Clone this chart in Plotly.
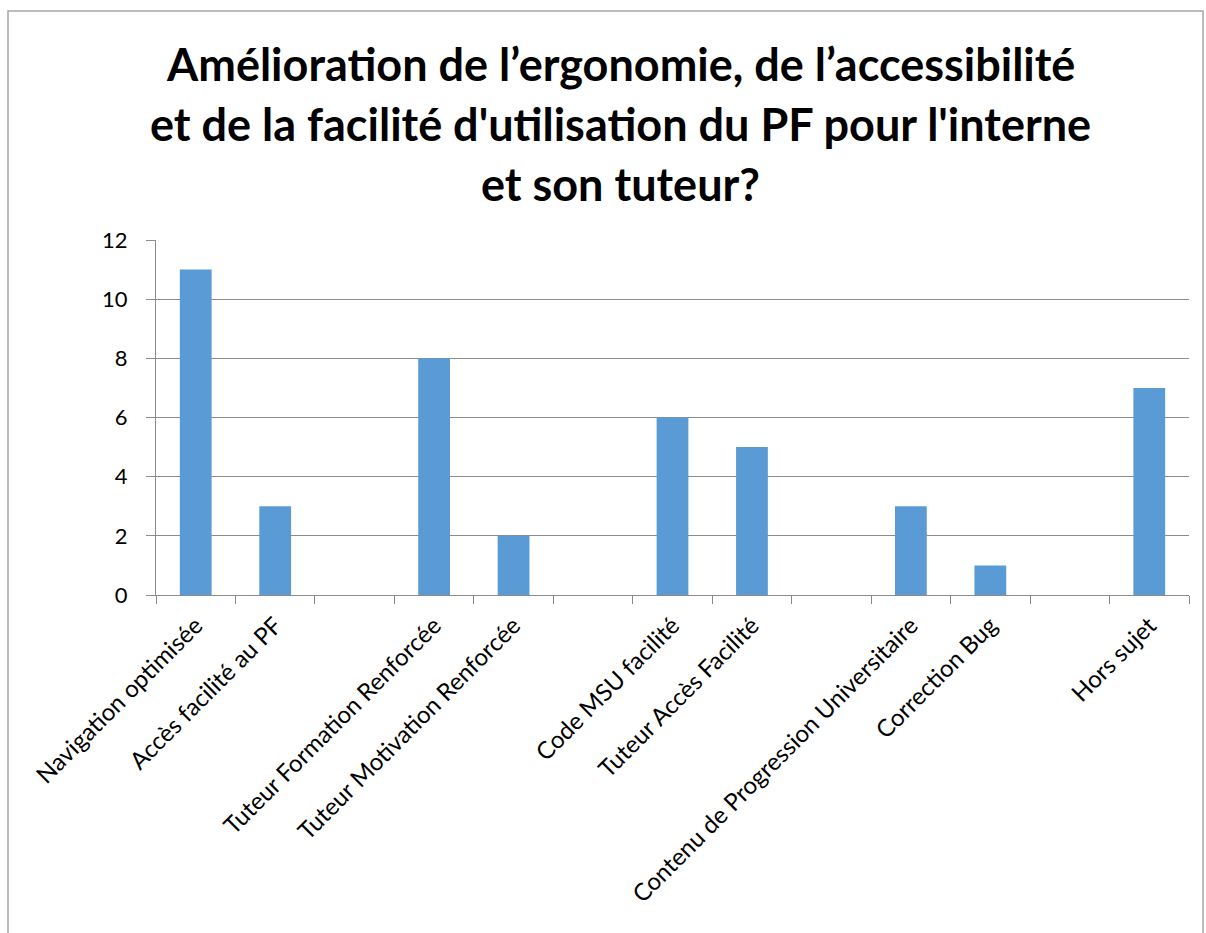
import plotly.graph_objects as go

categories = [
    "Navigation optimisée",
    "Accès facilité au PF",
    " ",
    "Tuteur Formation Renforcée",
    "Tuteur Motivation Renforcée",
    "  ",
    "Code MSU facilité",
    "Tuteur Accès Facilité",
    "   ",
    "Contenu de Progression Universitaire",
    "Correction Bug",
    "    ",
    "Hors sujet",
]
values = [11, 3, None, 8, 2, None, 6, 5, None, 3, 1, None, 7]
y_ticks = [0, 2, 4, 6, 8, 10, 12]
title_lines = [
    "Amélioration de l’ergonomie, de l’accessibilité",
    "et de la facilité d'utilisation du PF pour l'interne",
    "et son tuteur?",
]

W, H = 1206, 933
L, R, T, B = 156, 17, 240, 338
ph = H - T - B
pw = W - L - R

def py(pix):
    return (H - B - pix) / ph

def px(pix):
    return (pix - L) / pw

FONT = "Lato"
AX = "#8C8C8C"

fig = go.Figure(go.Bar(x=categories, y=values, marker=dict(color="#5B9BD5", line=dict(width=0))))

annotations = []
for line, yc in zip(title_lines, [64, 124, 184]):
    annotations.append(dict(
        text=f"<b>{line}</b>", x=px(620), y=py(yc), xref="paper", yref="paper",
        xanchor="center", yanchor="middle", showarrow=False,
        font=dict(family=FONT, size=45, color="#000000"),
    ))

fig.update_layout(
    width=W, height=H,
    margin=dict(l=L, r=R, t=T, b=B, autoexpand=False),
    paper_bgcolor="white", plot_bgcolor="white",
    bargap=0.6,
    showlegend=False,
    font=dict(family=FONT, size=24, color="#000000"),
    annotations=annotations,
    shapes=[dict(type="rect", xref="paper", yref="paper",
                 x0=px(8), x1=px(1203), y0=py(950), y1=py(11),
                 line=dict(color="#A6A6A6", width=1.5), layer="below")],
)
fig.update_xaxes(
    type="category", tickangle=-45, tickson="boundaries",
    ticks="outside", ticklen=8, tickcolor=AX, tickwidth=1,
    showline=True, linecolor=AX, linewidth=1, showgrid=False,
    ticklabelstandoff=6,
    tickfont=dict(family=FONT, size=24, color="#000000"),
)
fig.update_yaxes(
    range=[0, 12], tickvals=y_ticks, ticks="outside", ticklen=9, tickcolor=AX,
    showline=True, linecolor=AX, linewidth=1,
    showgrid=True, gridcolor=AX, gridwidth=1, zeroline=False,
    ticklabelstandoff=14,
    tickfont=dict(family=FONT, size=22, color="#000000"),
)

fig.write_html("out.html", config={"displayModeBar": False},
               post_script="document.body.style.margin='0';")
